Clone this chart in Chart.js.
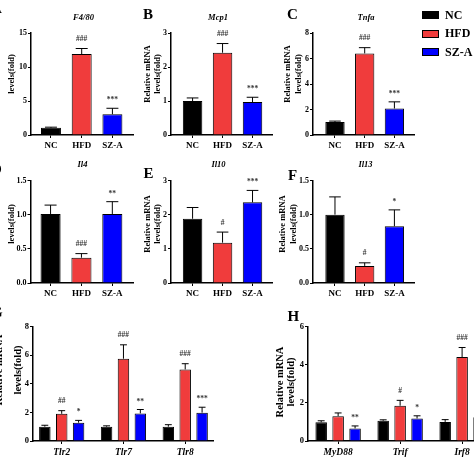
<!DOCTYPE html>
<html>
<head>
<meta charset="utf-8">
<script src="https://cdn.jsdelivr.net/npm/chart.js@4.4.1/dist/chart.umd.min.js"></script>
<style>
    html, body { margin: 0; padding: 0; background: #fff; }
    body { width: 474px; height: 474px; position: relative; overflow: hidden; font-family: "Liberation Serif", "Times New Roman", serif; }
    canvas { position: absolute; left: 0; top: 0; }
    .letter { position: absolute; font-weight: bold; font-size: 15px; line-height: 15px; }
    #legend { position: absolute; left: 422px; top: 5.75px; }
    .item { height: 18.5px; display: flex; align-items: center; font-weight: bold; font-size: 12px; }
    .sw { width: 15px; height: 6px; border: 1px solid #000; margin-right: 6px; }
</style>
</head>
<body>
<canvas id="chartA" width="474" height="474"></canvas>
<canvas id="chartB" width="474" height="474"></canvas>
<canvas id="chartC" width="474" height="474"></canvas>
<canvas id="chartD" width="474" height="474"></canvas>
<canvas id="chartE" width="474" height="474"></canvas>
<canvas id="chartF" width="474" height="474"></canvas>
<canvas id="chartG" width="474" height="474"></canvas>
<canvas id="chartH" width="520" height="474"></canvas>

<div class="letter" style="left:-9px;top:1px">A</div>
<div class="letter" style="left:143px;top:7px">B</div>
<div class="letter" style="left:287px;top:7px">C</div>
<div class="letter" style="left:-9px;top:162px">D</div>
<div class="letter" style="left:143.5px;top:166px">E</div>
<div class="letter" style="left:288px;top:168px">F</div>
<div class="letter" style="left:-9px;top:305px">G</div>
<div class="letter" style="left:287.5px;top:309px">H</div>
<div id="legend"></div>

<script>
// groups
const groups = ['NC', 'HFD', 'SZ-A'];

// single-gene panels: mean, SEM, significance mark per group
const f480Mean = [1.05, 11.9, 3.05];
const f480Sem = [0.1, 0.82, 0.88];
const f480Sig = ['', '###', '***'];
const f480Ticks = [0, 5, 10, 15];

const mcp1Mean = [1.0, 2.42, 0.97];
const mcp1Sem = [0.09, 0.27, 0.14];
const mcp1Sig = ['', '###', '***'];
const mcp1Ticks = [0, 1, 2, 3];

const tnfaMean = [1.02, 6.4, 2.08];
const tnfaSem = [0.07, 0.45, 0.52];
const tnfaSig = ['', '###', '***'];
const tnfaTicks = [0, 2, 4, 6, 8];

const il4Mean = [1.01, 0.37, 1.01];
const il4Sem = [0.13, 0.06, 0.18];
const il4Sig = ['', '###', '**'];
const il4Ticks = [0, 0.5, 1.0, 1.5];

const il10Mean = [1.88, 1.18, 2.36];
const il10Sem = [0.33, 0.31, 0.35];
const il10Sig = ['', '#', '***'];
const il10Ticks = [0, 1, 2, 3];

const il13Mean = [1.0, 0.25, 0.83];
const il13Sem = [0.26, 0.045, 0.24];
const il13Sig = ['', '#', '*'];
const il13Ticks = [0, 0.5, 1.0, 1.5];

// grouped panel G
const tlrGenes = ['Tlr2', 'Tlr7', 'Tlr8'];
const tlrNC = [1.0, 1.0, 1.0];
const tlrNCSem = [0.1, 0.06, 0.14];
const tlrHFD = [1.9, 5.75, 5.0];
const tlrHFDSem = [0.22, 0.97, 0.4];
const tlrHFDSig = ['##', '###', '###'];
const tlrSZA = [1.28, 1.93, 1.98];
const tlrSZASem = [0.16, 0.27, 0.38];
const tlrSZASig = ['*', '**', '***'];
const tlrTicks = [0, 2, 4, 6, 8];

// grouped panel H
const adGenes = ['MyD88', 'Trif', 'Irf8'];
const adNC = [0.98, 1.06, 1.0];
const adNCSem = [0.08, 0.05, 0.12];
const adHFD = [1.3, 1.85, 4.4];
const adHFDSem = [0.17, 0.28, 0.5];
const adHFDSig = ['', '#', '###'];
const adSZA = [0.66, 1.18, 1.25];
const adSZASem = [0.13, 0.14, 0.15];
const adSZASig = ['**', '*', ''];
const adTicks = [0, 2, 4, 6];

const groupColors = ['#000000', '#f03c3c', '#0000ff'];
const FONT = '"Liberation Serif", "Times New Roman", serif';
const YW = 16;   // width of y scale box
const XH = 22;   // height of x scale box

Chart.defaults.font.family = FONT;
Chart.defaults.font.weight = 'bold';
Chart.defaults.color = '#000';

// error bars, significance marks, panel title and y title
const panelDecor = {
    id: 'panelDecor',
    afterDatasetsDraw(chart, args, opts) {
        const ctx = chart.ctx;
        const yScale = chart.scales.y;
        ctx.save();
        chart.data.datasets.forEach((ds, di) => {
            chart.getDatasetMeta(di).data.forEach((bar, i) => {
                const topY = yScale.getPixelForValue(ds.data[i].y + ds.sem[i]);
                const half = bar.width * 0.3;
                ctx.strokeStyle = '#000';
                ctx.lineWidth = 1;
                ctx.beginPath();
                ctx.moveTo(bar.x, bar.y);
                ctx.lineTo(bar.x, topY);
                ctx.moveTo(bar.x - half, topY);
                ctx.lineTo(bar.x + half, topY);
                ctx.stroke();
                const s = ds.sig[i];
                if (s) {
                    ctx.fillStyle = '#333';
                    ctx.font = 'bold 7.5px ' + FONT;
                    ctx.textAlign = 'center';
                    ctx.textBaseline = 'alphabetic';
                    ctx.fillText(s, bar.x, topY - (s[0] === '#' ? 7.5 : 6));
                }
            });
        });

        ctx.fillStyle = '#000';
        ctx.textAlign = 'center';
        ctx.textBaseline = 'middle';
        if (opts.title) {
            ctx.font = 'italic bold 8.5px ' + FONT;
            ctx.fillText(opts.title, opts.titleX, opts.titleY);
        }
        ctx.font = 'bold ' + opts.yTitleSize + 'px ' + FONT;
        opts.yTitle.forEach((line, k) => {
            ctx.save();
            ctx.translate(opts.yTitleX[k], opts.yTitleY);
            ctx.rotate(-Math.PI / 2);
            ctx.fillText(line, 0, 0);
            ctx.restore();
        });
        ctx.restore();
    }
};

function singleSets(mean, sem, sig) {
    return [{
        data: mean.map((v, i) => ({ x: i, y: v })),
        sem: sem,
        sig: sig,
        backgroundColor: groupColors,
        borderColor: '#000',
        borderWidth: 1,
        barPercentage: 0.65,
        categoryPercentage: 1
    }];
}

function groupedSets(series) {
    return series.map((s, k) => ({
        data: s.mean.map((v, i) => ({ x: i, y: v })),
        sem: s.sem,
        sig: s.sig,
        backgroundColor: groupColors[k],
        borderColor: '#000',
        borderWidth: 1,
        barPercentage: 0.68,
        categoryPercentage: 0.82
    }));
}

function drawPanel(canvasId, p) {
    const canvas = document.getElementById(canvasId);
    const ctx = canvas.getContext('2d');
    const yTicks = p.yTicks;
    const g = p.geo;
    const tickGrid = {
        display: true,
        drawOnChartArea: false,
        drawTicks: true,
        offset: false,
        tickLength: 3,
        color: '#000',
        lineWidth: 1
    };
    return new Chart(ctx, {
        type: 'bar',
        data: { datasets: p.datasets },
        options: {
            responsive: false,
            devicePixelRatio: 1,
            animation: false,
            layout: {
                padding: {
                    left: g.x0 - YW,
                    right: canvas.width - g.x1,
                    top: g.top,
                    bottom: canvas.height - g.zero - XH
                }
            },
            plugins: {
                legend: { display: false },
                tooltip: { enabled: false },
                panelDecor: p.decor
            },
            scales: {
                x: {
                    type: 'linear',
                    offset: false,
                    min: g.xmin,
                    max: g.xmax,
                    afterBuildTicks: (scale) => {
                        scale.ticks = p.labels.map((l, i) => ({ value: i }));
                    },
                    afterFit: (scale) => { scale.height = XH; },
                    grid: tickGrid,
                    border: { display: true, color: '#000', width: 1.5 },
                    ticks: {
                        autoSkip: false,
                        maxRotation: 0,
                        padding: 2.5,
                        font: p.xFont,
                        callback: (v) => p.labels[v]
                    }
                },
                y: {
                    min: yTicks[0],
                    max: yTicks[yTicks.length - 1],
                    afterFit: (scale) => { scale.width = YW; },
                    grid: tickGrid,
                    border: { display: true, color: '#000', width: 1.5 },
                    ticks: {
                        stepSize: yTicks[1] - yTicks[0],
                        padding: 1,
                        font: p.yFont,
                        callback: (v) => p.decimals ? v.toFixed(1) : String(v)
                    }
                }
            }
        },
        plugins: [panelDecor]
    });
}

const yTitle = ['Relative mRNA', 'levels(fold)'];
const smallX = { size: 9, weight: 'bold' };
const smallY = { size: 8, weight: 'bold' };

window.addEventListener('load', function () {
    const col1 = { x0: 31, x1: 133, xmin: -0.65, xmax: 2.67 };
    const col2 = { x0: 171, x1: 272, xmin: -0.72, xmax: 2.65 };
    const col3 = { x0: 313, x1: 414, xmin: -0.74, xmax: 2.66 };
    const row1 = { top: 33, zero: 135 };
    const row2 = { top: 180.5, zero: 283 };

    drawPanel('chartA', {
        geo: Object.assign({}, col1, row1), labels: groups, yTicks: f480Ticks,
        datasets: singleSets(f480Mean, f480Sem, f480Sig), xFont: smallX, yFont: smallY,
        decor: { title: 'F4/80', titleX: 83.5, titleY: 18, yTitle: yTitle, yTitleX: [-4, 11.5], yTitleY: 74, yTitleSize: 8.5 }
    });
    drawPanel('chartB', {
        geo: Object.assign({}, col2, row1), labels: groups, yTicks: mcp1Ticks,
        datasets: singleSets(mcp1Mean, mcp1Sem, mcp1Sig), xFont: smallX, yFont: smallY,
        decor: { title: 'Mcp1', titleX: 218, titleY: 18, yTitle: yTitle, yTitleX: [148, 158], yTitleY: 74, yTitleSize: 8.5 }
    });
    drawPanel('chartC', {
        geo: Object.assign({}, col3, row1), labels: groups, yTicks: tnfaTicks,
        datasets: singleSets(tnfaMean, tnfaSem, tnfaSig), xFont: smallX, yFont: smallY,
        decor: { title: 'Tnfa', titleX: 366, titleY: 18, yTitle: yTitle, yTitleX: [288, 299], yTitleY: 74, yTitleSize: 8.5 }
    });
    drawPanel('chartD', {
        geo: Object.assign({}, col1, row2, { x0: 30.5 }), labels: groups, yTicks: il4Ticks, decimals: true,
        datasets: singleSets(il4Mean, il4Sem, il4Sig), xFont: smallX, yFont: smallY,
        decor: { title: 'Il4', titleX: 82.5, titleY: 165, yTitle: yTitle, yTitleX: [-4, 11.5], yTitleY: 224, yTitleSize: 8.5 }
    });
    drawPanel('chartE', {
        geo: Object.assign({}, col2, row2), labels: groups, yTicks: il10Ticks,
        datasets: singleSets(il10Mean, il10Sem, il10Sig), xFont: smallX, yFont: smallY,
        decor: { title: 'Il10', titleX: 218.5, titleY: 165, yTitle: yTitle, yTitleX: [147.5, 157.5], yTitleY: 224, yTitleSize: 8.5 }
    });
    drawPanel('chartF', {
        geo: Object.assign({}, col3, row2), labels: groups, yTicks: il13Ticks, decimals: true,
        datasets: singleSets(il13Mean, il13Sem, il13Sig), xFont: smallX, yFont: smallY,
        decor: { title: 'Il13', titleX: 365.5, titleY: 165, yTitle: yTitle, yTitleX: [282.5, 294], yTitleY: 224, yTitleSize: 8.5 }
    });

    const geneFont = { size: 9.5, weight: 'bold', style: 'italic' };
    const rowY = { size: 8.5, weight: 'bold' };
    drawPanel('chartG', {
        geo: { x0: 33, x1: 213, xmin: -0.465, xmax: 2.45, top: 326.5, zero: 441 },
        labels: tlrGenes, yTicks: tlrTicks, xFont: geneFont, yFont: rowY,
        datasets: groupedSets([
            { mean: tlrNC, sem: tlrNCSem, sig: ['', '', ''] },
            { mean: tlrHFD, sem: tlrHFDSem, sig: tlrHFDSig },
            { mean: tlrSZA, sem: tlrSZASem, sig: tlrSZASig }
        ]),
        decor: { yTitle: yTitle, yTitleX: [-0.5, 18.5], yTitleY: 370, yTitleSize: 10.5 }
    });
    drawPanel('chartH', {
        geo: { x0: 308, x1: 490, xmin: -0.486, xmax: 2.45, top: 326.5, zero: 441 },
        labels: adGenes, yTicks: adTicks, xFont: geneFont, yFont: rowY,
        datasets: groupedSets([
            { mean: adNC, sem: adNCSem, sig: ['', '', ''] },
            { mean: adHFD, sem: adHFDSem, sig: adHFDSig },
            { mean: adSZA, sem: adSZASem, sig: adSZASig }
        ]),
        decor: { yTitle: yTitle, yTitleX: [280, 291.5], yTitleY: 382, yTitleSize: 10.5 }
    });

    const legend = document.getElementById('legend');
    groups.forEach((name, i) => {
        const item = document.createElement('div');
        item.className = 'item';
        const sw = document.createElement('span');
        sw.className = 'sw';
        sw.style.background = groupColors[i];
        item.appendChild(sw);
        item.appendChild(document.createTextNode(name));
        legend.appendChild(item);
    });
});
</script>
</body>
</html>
